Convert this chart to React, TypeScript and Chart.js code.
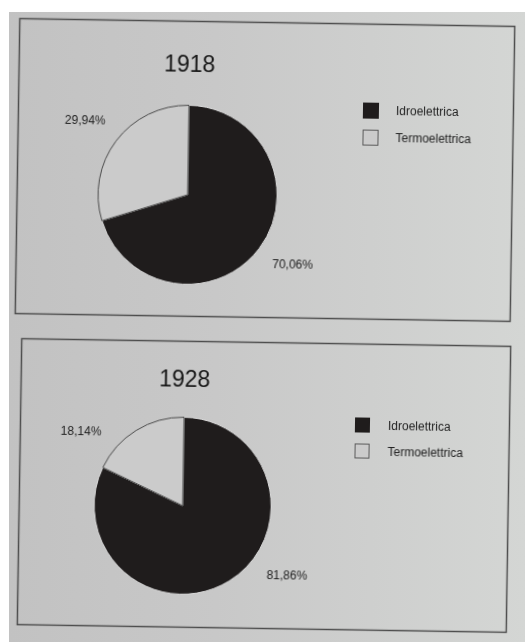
import { useEffect, useRef } from 'react';
import { Chart, registerables } from 'chart.js';

Chart.register(...registerables);

const YEARS = ['1918', '1928'];
const CATEGORIES = ['Idroelettrica', 'Termoelettrica'];
const IDRO = [70.06, 81.86];
const TERMO = [29.94, 18.14];

const FILL = ['#1f1c1c', '#cbcbcb'];
const EDGE = ['#d8d8d8', '#4a4a4a'];
const FONT = '"Liberation Sans", Arial, sans-serif';

const BOXES = [
  { left: 16, top: 21, w: 498, h: 298, pad: { left: 82, right: 236, top: 85, bottom: 33 }, titleY: 46, legX: 346, legY: 80, legStep: 27, legSize: 16 },
  { left: 18, top: 341, w: 492, h: 289, pad: { left: 76, right: 238, top: 77, bottom: 34 }, titleY: 41, legX: 336, legY: 75, legStep: 26, legSize: 15 },
];

const LABEL_ANGLES = [123, 305];

const fmt = (v: number) => v.toFixed(2).replace('.', ',') + '%';

const decor = {
  id: 'decor',
  beforeDraw(chart: any, _a: any, opts: any) {
    const ctx = chart.ctx;
    ctx.save();
    ctx.strokeStyle = '#4d4d4d';
    ctx.lineWidth = 1.5;
    ctx.strokeRect(1.5, 1.5, chart.width - 3, chart.height - 3);
    ctx.restore();
  },
  afterDraw(chart: any, _a: any, opts: any) {
    const ctx = chart.ctx;
    const meta = chart.getDatasetMeta(0);
    const arc0 = meta.data[0];
    ctx.save();
    // title
    ctx.fillStyle = '#161616';
    ctx.font = `23px ${FONT}`;
    ctx.textAlign = 'center';
    ctx.textBaseline = 'middle';
    ctx.fillText(opts.title, arc0.x, opts.titleY);
    // value labels
    ctx.font = `12px ${FONT}`;
    ctx.fillStyle = '#222';
    const ds = chart.data.datasets[0];
    meta.data.forEach((arc: any, i: number) => {
      const a = (LABEL_ANGLES[i] * Math.PI) / 180;
      const d = arc.outerRadius + 37;
      ctx.fillText(fmt(ds.data[i]), arc.x + Math.sin(a) * d, arc.y - Math.cos(a) * d);
    });
    // legend
    ctx.textAlign = 'left';
    chart.data.labels.forEach((lab: string, i: number) => {
      const y = opts.legY + i * opts.legStep;
      ctx.fillStyle = ds.backgroundColor[i];
      ctx.fillRect(opts.legX, y, opts.legSize, opts.legSize);
      if (i === 1) {
        ctx.strokeStyle = '#5a5a5a';
        ctx.lineWidth = 1;
        ctx.strokeRect(opts.legX + 0.5, y + 0.5, opts.legSize - 1, opts.legSize - 1);
      }
      ctx.fillStyle = '#222';
      ctx.fillText(lab, opts.legX + 33, y + opts.legSize / 2 + 1);
    });
    ctx.restore();
  },
};

function PieBox({ idx }: { idx: number }) {
  const ref = useRef<HTMLCanvasElement>(null);
  const b = BOXES[idx];
  useEffect(() => {
    const chart = new Chart(ref.current as HTMLCanvasElement, {
      type: 'pie',
      data: {
        labels: CATEGORIES,
        datasets: [
          {
            data: [IDRO[idx], TERMO[idx]],
            backgroundColor: FILL,
            borderColor: EDGE,
            borderWidth: 1,
          },
        ],
      },
      options: {
        responsive: false,
        animation: false,
        events: [],
        layout: { padding: b.pad },
        plugins: {
          legend: { display: false },
          tooltip: { enabled: false },
          decor: { title: YEARS[idx], titleY: b.titleY, legX: b.legX, legY: b.legY, legStep: b.legStep, legSize: b.legSize },
        } as any,
      },
      plugins: [decor as any],
    });
    return () => chart.destroy();
  }, []);
  return (
    <canvas
      ref={ref}
      width={b.w}
      height={b.h}
      style={{ position: 'absolute', left: b.left, top: b.top, width: b.w, height: b.h, transform: 'rotate(0.9deg)' }}
    />
  );
}

export default function App() {
  return (
    <div style={{ position: 'fixed', left: 0, top: 0, width: 525, height: 642, background: '#ffffff', overflow: 'hidden' }}>
      <div
        style={{
          position: 'absolute',
          left: 9,
          top: 12,
          right: 0,
          bottom: 0,
          background: 'linear-gradient(to right, #c2c2c2 0%, #c8c8c8 40%, #d4d6d4 100%)',
        }}
      />
      <PieBox idx={0} />
      <PieBox idx={1} />
    </div>
  );
}
